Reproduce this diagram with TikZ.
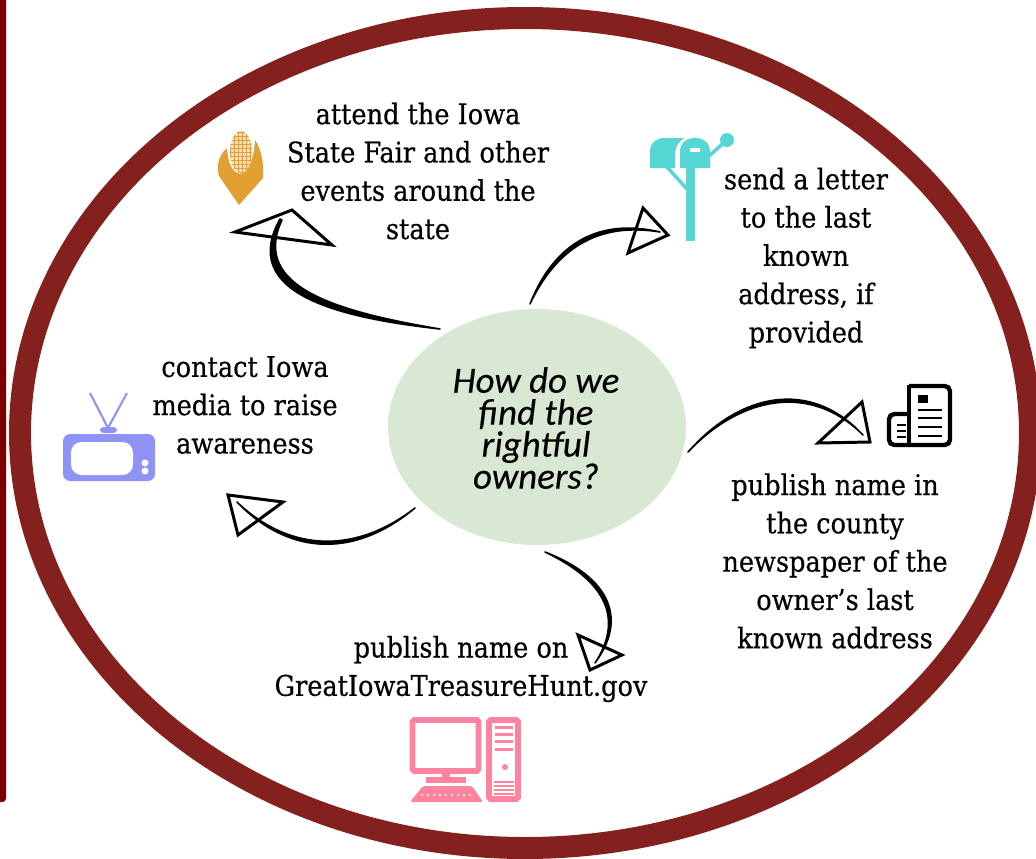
\documentclass[tikz,border=0pt]{standalone}
\usepackage{fontspec}
\setmainfont{DejaVu Serif Condensed}[FakeBold = 0.5]
\newfontfamily\handfont{Carlito}[ItalicFont = * Italic, ItalicFeatures = {FakeBold = 0.3}]
\usetikzlibrary{shapes.geometric}
\definecolor{ringred}{HTML}{84211F}
\definecolor{barred}{HTML}{7A0000}
\definecolor{paleleaf}{HTML}{D9E8D3}
\definecolor{cornorange}{HTML}{E3A032}
\definecolor{mailteal}{HTML}{57D6D6}
\definecolor{tvblue}{HTML}{8F93F5}
\definecolor{pcpink}{HTML}{FF839F}
\tikzset{
    steptext/.style = {align = center, font = \fontsize{16.2}{21.8}\selectfont},
    sketchline/.style = {draw, fill, line width = 0.9pt, line cap = round, line join = round},
    sketchhead/.style = {line width = 1.7pt, line join = miter},
}
\begin{document}
\begin{tikzpicture}[x = 0.02cm, y = -0.02cm]
        \useasboundingbox (0,0) rectangle (1036,859);
        \fill[barred, rounded corners = 2] (-10,-10) rectangle (6,802);
        \node[draw = ringred, line width = 22*0.02cm, shape = ellipse, minimum width = 1010*0.02cm, minimum height = 830*0.02cm, inner sep = 0] (ring) at (525,433) {};
        \node[fill = paleleaf, shape = ellipse, minimum width = 298*0.02cm, minimum height = 236*0.02cm, inner sep = 0] (owners) at (537,427) {};
        \node[align = center, font = \fontsize{21}{18.2}\selectfont\handfont\itshape] (question) at (536,428) {How do we\\find the\\rightful\\owners?};
        \node[steptext] (fair) at (418,171) {attend the Iowa\\State Fair and other\\events around the\\state};
        \node[steptext] (letter) at (806,258) {send a letter\\to the last\\known\\address, if\\provided};
        \node[steptext] (media) at (245,405) {contact Iowa\\media to raise\\awareness};
        \node[steptext] (paper) at (835,561) {publish name in\\the county\\newspaper of the\\owner’s last\\known address};
        \node[steptext] (site) at (461,669) {publish name on\\GreatIowaTreasureHunt.gov};
        % arrows
        \coordinate (fairstart) at (440,329);
        \coordinate (fairend) at (282,220);
        \coordinate (letterstart) at (530,304);
        \coordinate (letterend) at (660,232);
        \coordinate (paperstart) at (688,452);
        \coordinate (paperend) at (863,435);
        \coordinate (mediastart) at (415,508);
        \coordinate (mediaend) at (237,502);
        \coordinate (sitestart) at (545,552);
        \coordinate (siteend) at (595,663);
        \path[sketchline] (fairstart) .. controls (340,318) and (238,294) .. (280,219) -- (fairend) .. controls (250,288) and (340,312) .. (fairstart) -- cycle;
        \draw[sketchhead] (235,232) -- (292,210) -- (332,245) -- cycle;
        \path[sketchline] (letterstart) .. controls (558,233) and (610,220) .. (letterend) .. controls (610,224) and (562,237) .. (letterstart) -- cycle;
        \draw[sketchhead] (643,208) -- (668,235) -- (628,253) -- cycle;
        \path[sketchline] (paperstart) .. controls (740,393) and (810,378) .. (paperend) .. controls (810,382) and (740,397) .. (paperstart) -- cycle;
        \draw[sketchhead] (862,402) -- (870,442) -- (818,443) -- cycle;
        \path[sketchline] (mediastart) .. controls (350,562) and (285,552) .. (mediaend) .. controls (285,548) and (350,558) .. (mediastart) -- cycle;
        \draw[sketchhead] (228,495) -- (283,502) -- (238,535) -- cycle;
        \path[sketchline] (sitestart) .. controls (612,578) and (627,620) .. (siteend) .. controls (623,620) and (608,582) .. (sitestart) -- cycle;
        \draw[sketchhead] (578,635) -- (622,655) -- (590,670) -- cycle;
        % corn
        \begin{scope}
        \fill[cornorange] (239,205) -- (219,176) .. controls (216,165) and (219,155) .. (227,148) .. controls (228,165) and (233,172) .. (240,174) .. controls (248,172) and (254,160) .. (255,140) .. controls (262,150) and (264,165) .. (263,178) -- cycle;
        \fill[cornorange!35!white] (241,152) ellipse (11 and 21);
        \clip (241,152) ellipse (11 and 21);
        \foreach \x in {230, 234, ..., 254}
            \draw[cornorange, line width = 0.5pt] (\x,130) -- (\x,175);
        \foreach \y in {132, 136, ..., 172}
            \draw[cornorange, line width = 0.5pt] (228,\y) -- (254,\y);
        \end{scope}
        % mailbox
        \begin{scope}[mailteal]
        \fill (650,168) -- (650,152) .. controls (650,143) and (656,138) .. (664,138) -- (684,138) .. controls (678,142) and (675,148) .. (675,155) -- (675,168) -- cycle;
        \fill (680,168) -- (680,152) .. controls (680,143) and (686,138) .. (695,138) .. controls (704,138) and (710,143) .. (710,152) -- (710,168) -- cycle;
        \fill (686,165) rectangle (695,241);
        \draw[line width = 2pt] (667,167) -- (687,189);
        \draw[line width = 2pt] (709,156) -- (727,140);
        \fill (727,140) circle (7);
        \fill[white] (690,148) rectangle (700,152);
        \end{scope}
        % newspaper
        \begin{scope}[line width = 2.5pt]
        \draw[rounded corners = 3] (909,386) -- (950,386) -- (950,445) -- (889,445) -- (889,414) -- (909,414);
        \draw (909,385) -- (909,445);
        \fill (918,395) rectangle (928,403);
        \end{scope}
        \foreach \y in {410, 418, 427, 436}
            \draw[line width = 1pt] (918,\y) -- (942,\y);
        \foreach \y in {425, 431, 437}
            \draw[line width = 1pt] (897,\y) -- (906,\y);
        % television
        \begin{scope}[tvblue]
        \fill[rounded corners = 4] (63,434) rectangle (155,481);
        \fill[white, rounded corners = 6] (71,442) rectangle (133,475);
        \fill[white] (145,463) circle (3.5);
        \fill[white] (145,471) circle (3.5);
        \fill[rounded corners = 2] (100,433) rectangle (117,427);
        \draw[line width = 1.2pt] (108,428) -- (90,393);
        \draw[line width = 1.2pt] (108,428) -- (127,393);
        \end{scope}
        % computer
        \begin{scope}[pcpink]
        \draw[line width = 3.4pt, rounded corners = 1] (412.5,720) rectangle (478.5,771);
        \fill (442,774) rectangle (450,778);
        \fill (426,777) rectangle (466,783);
        \fill[rounded corners = 1] (410,802) -- (423,786) -- (472,786) -- (483,802) -- cycle;
        \foreach \x in {422, 428, ..., 470}
            \fill[white] (\x,795) circle (1.2);
        \draw[line width = 3.4pt, rounded corners = 1] (489,720) rectangle (518,799);
        \foreach \y in {726, 733, 740, 748}
            \fill (495,\y) rectangle (513,\y+3);
        \fill (505,767) circle (3);
        \foreach \y in {781, 785, 789, 793}
            \fill (494,\y) rectangle (514,\y+1.5);
        \end{scope}
    \end{tikzpicture}
\end{document}
